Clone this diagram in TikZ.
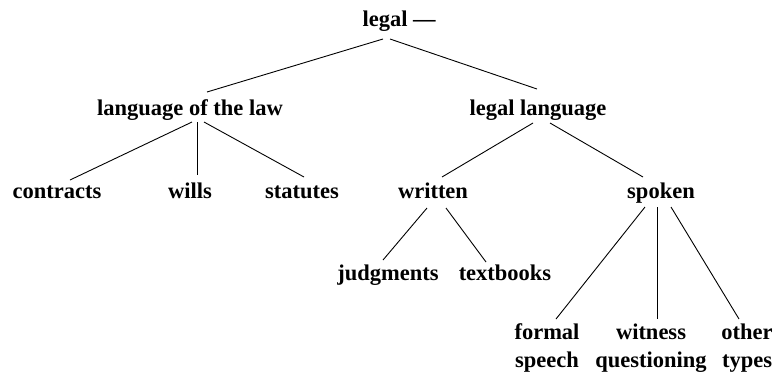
\documentclass[tikz,border=0pt]{standalone}
\usepackage{fontspec}
\setmainfont{Liberation Serif}
\usetikzlibrary{positioning}

\begin{document}
\begin{tikzpicture}[
    x=1pt, y=-1pt,
    % Styles
    term/.style={% For every word of the tree
        font=\fontsize{22.5}{28}\bfseries\selectfont,
        inner sep=0pt,
        anchor=base,
        align=center,
        },
    branch/.style={% For the connecting lines
        line width=.9pt,
        },
    ]
    \useasboundingbox (0,0) rectangle (776,376);

    % Top of the tree
    \node [term] (legal) at (385,26) {legal\rlap{ ---}};

    % Second level
    \node [term] (law) at (190,115) {language of the law};
    \node [term] (leglang) at (538,115) {legal language};

    % Third level
    \node [term] (contracts) at (57,198) {contracts};
    \node [term] (wills) at (190,198) {wills};
    \node [term] (statutes) at (302,198) {statutes};
    \node [term] (written) at (433,198) {written};
    \node [term] (spoken) at (661,198) {spoken};

    % Fourth level (two-line nodes sit on their last line)
    \node [term] (judgments) at (388,280) {judgments};
    \node [term] (textbooks) at (505,280) {textbooks};
    \node [term] (formal) at (547,367) {formal\\speech};
    \node [term] (witness) at (651,367) {witness\\questioning};
    \node [term] (other) at (747,367) {other\\types};

% Connecting all.
    \draw [branch] ([shift={(-2,13)}]legal.base) -- ([shift={(17,-23)}]law.base);
    \draw [branch] ([shift={(5,13)}]legal.base) -- ([shift={(-1,-26)}]leglang.base);

    \draw [branch] ([shift={(2,7)}]law.base) -- ([shift={(13,-18)}]contracts.base);
    \draw [branch] ([shift={(7,7)}]law.base) -- ([shift={(7,-23)}]wills.base);
    \draw [branch] ([shift={(14,7)}]law.base) -- ([shift={(2,-21)}]statutes.base);

    \draw [branch] ([shift={(-5,8)}]leglang.base) -- ([shift={(9,-21)}]written.base);
    \draw [branch] ([shift={(12,8)}]leglang.base) -- ([shift={(-18,-21)}]spoken.base);

    \draw [branch] ([shift={(-6,10)}]written.base) -- ([shift={(-5,-20)}]judgments.base);
    \draw [branch] ([shift={(13,10)}]written.base) -- ([shift={(-19,-18)}]textbooks.base);

    \draw [branch] ([shift={(-16,9)}]spoken.base) -- ([shift={(9,-48)}]formal.base);
    \draw [branch] ([shift={(-4,9)}]spoken.base) -- ([shift={(6,-48)}]witness.base);
    \draw [branch] ([shift={(10,9)}]spoken.base) -- ([shift={(-8,-48)}]other.base);

\end{tikzpicture}
\end{document}
